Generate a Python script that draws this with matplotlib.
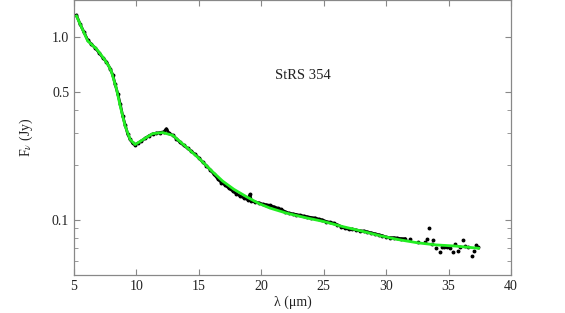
import matplotlib
matplotlib.use("Agg")
import matplotlib.pyplot as plt
from matplotlib.ticker import FixedLocator, NullFormatter

# model fit (green)
model_wl = [5.2, 5.6, 6.1, 6.8, 7.4, 7.8, 8.0, 8.4, 8.7, 9.1, 9.5, 9.9, 10.5,
            11.3, 12.1, 12.9, 14.0, 15.1, 16.0, 16.9, 17.8, 18.8, 19.8, 20.7,
            22.0, 23.5, 25.0, 26.5, 28.0, 29.5, 31.0, 32.5, 34.0, 35.5, 37.4]
model_fl = [1.30, 1.13, 0.95, 0.86, 0.76, 0.69, 0.645, 0.52, 0.42, 0.325, 0.275,
            0.258, 0.274, 0.296, 0.300, 0.290, 0.250, 0.214, 0.186, 0.163, 0.147,
            0.134, 0.123, 0.116, 0.109, 0.103, 0.098, 0.092, 0.087, 0.082, 0.078,
            0.075, 0.073, 0.072, 0.070]

# observed spectrum (black)
obs_wl = [5.2, 5.5, 5.8, 6.1, 6.4, 6.7, 7.0, 7.3, 7.6, 7.9, 8.1, 8.3, 8.5, 8.7,
          8.9, 9.1, 9.3, 9.5, 9.7, 9.9, 10.1, 10.4, 10.7, 11.0, 11.3, 11.6, 11.9,
          12.2, 12.4, 12.6, 12.9, 13.2, 13.5, 13.8, 14.1, 14.4, 14.7, 15.0, 15.3,
          15.6, 15.9, 16.2, 16.5, 16.8, 17.1, 17.4, 17.7, 18.0, 18.3, 18.6, 18.9,
          19.1, 19.2, 19.5, 19.8, 20.1, 20.4, 20.7, 21.0, 21.3, 21.6, 21.9, 22.2,
          22.5, 22.8, 23.1, 23.4, 23.7, 24.0, 24.3, 24.6, 24.9, 25.2, 25.5, 25.8,
          26.1, 26.4, 26.7, 27.0, 27.3, 27.6, 27.9, 28.2, 28.5, 28.8, 29.1, 29.4,
          29.7, 30.0, 30.3, 30.6, 30.9, 31.2, 31.5]
obs_fl = [1.31, 1.17, 1.06, 0.96, 0.91, 0.87, 0.82, 0.77, 0.73, 0.67, 0.62, 0.55,
          0.49, 0.43, 0.37, 0.33, 0.295, 0.275, 0.262, 0.258, 0.262, 0.270, 0.279,
          0.288, 0.295, 0.298, 0.300, 0.303, 0.315, 0.298, 0.290, 0.278, 0.265,
          0.255, 0.246, 0.237, 0.228, 0.218, 0.207, 0.198, 0.188, 0.178, 0.168,
          0.160, 0.155, 0.149, 0.144, 0.139, 0.135, 0.132, 0.129, 0.138, 0.127,
          0.125, 0.124, 0.122, 0.121, 0.120, 0.118, 0.116, 0.114, 0.111, 0.109,
          0.108, 0.107, 0.106, 0.105, 0.104, 0.103, 0.1025, 0.101, 0.100, 0.098,
          0.097, 0.096, 0.094, 0.092, 0.090, 0.089, 0.089, 0.088, 0.087, 0.087,
          0.086, 0.085, 0.084, 0.083, 0.082, 0.0805, 0.080, 0.080, 0.0795, 0.079,
          0.079]

# noisy long-wavelength end
tail_wl = [31.9, 32.57, 33.1, 33.42, 33.29, 33.77, 33.64, 33.96, 34.3, 34.44,
           34.65, 34.84, 35.1, 35.32, 35.5, 35.77, 35.9, 36.17, 36.3, 36.57,
           36.84, 37.03, 37.19, 37.37]
tail_fl = [0.0785, 0.0755, 0.076, 0.090, 0.0785, 0.0778, 0.0736, 0.070, 0.0665,
           0.0714, 0.071, 0.071, 0.0706, 0.0665, 0.074, 0.0672, 0.071, 0.0778,
           0.072, 0.071, 0.0638, 0.068, 0.073, 0.071]

xticks = [5, 10, 15, 20, 25, 30, 35, 40]
yticks = [0.1, 0.5, 1.0]
yminor = [0.06, 0.07, 0.08, 0.09, 0.2, 0.3, 0.4]

plt.rcParams["font.family"] = ["Liberation Serif", "DejaVu Serif"]
plt.rcParams["mathtext.fontset"] = "stix"

fig = plt.figure(figsize=(5.65, 3.13), dpi=100)
ax = fig.add_axes([74 / 565, 38 / 313, 437 / 565, 275 / 313])

ax.plot(obs_wl, obs_fl, color="black", lw=2.0, marker="o", ms=1.8, zorder=2)
ax.plot(tail_wl, tail_fl, "o", color="black", ms=1.8, zorder=2)
ax.plot(model_wl, model_fl, color="#22ee22", lw=2.0, zorder=3)

ax.set_yscale("log")
ax.set_xlim(5, 40)
ax.set_ylim(0.05, 1.59)
ax.set_xticks(xticks)
ax.set_xticklabels([str(t) for t in xticks])
ax.yaxis.set_major_locator(FixedLocator(yticks))
ax.yaxis.set_minor_locator(FixedLocator(yminor))
ax.set_yticklabels(["0.1", "0.5", "1.0"])
ax.yaxis.set_minor_formatter(NullFormatter())

for s in ax.spines.values():
    s.set_color("#888888")
    s.set_linewidth(0.9)
ax.tick_params(which="both", direction="in", top=True, right=True,
               color="#888888", labelsize=10, labelcolor="#222222")
ax.tick_params(which="major", length=4)
ax.tick_params(which="minor", length=3)

ax.set_xlabel("λ (μm)", fontsize=10, color="#222222", labelpad=2)
ax.set_ylabel(r"F$_\nu$ (Jy)", fontsize=10, color="#222222", labelpad=12)
ax.text(0.524, 0.724, "StRS 354", transform=ax.transAxes, ha="center",
        va="center", fontsize=10.5, color="#222222")

fig.savefig("out.png", dpi=100)
